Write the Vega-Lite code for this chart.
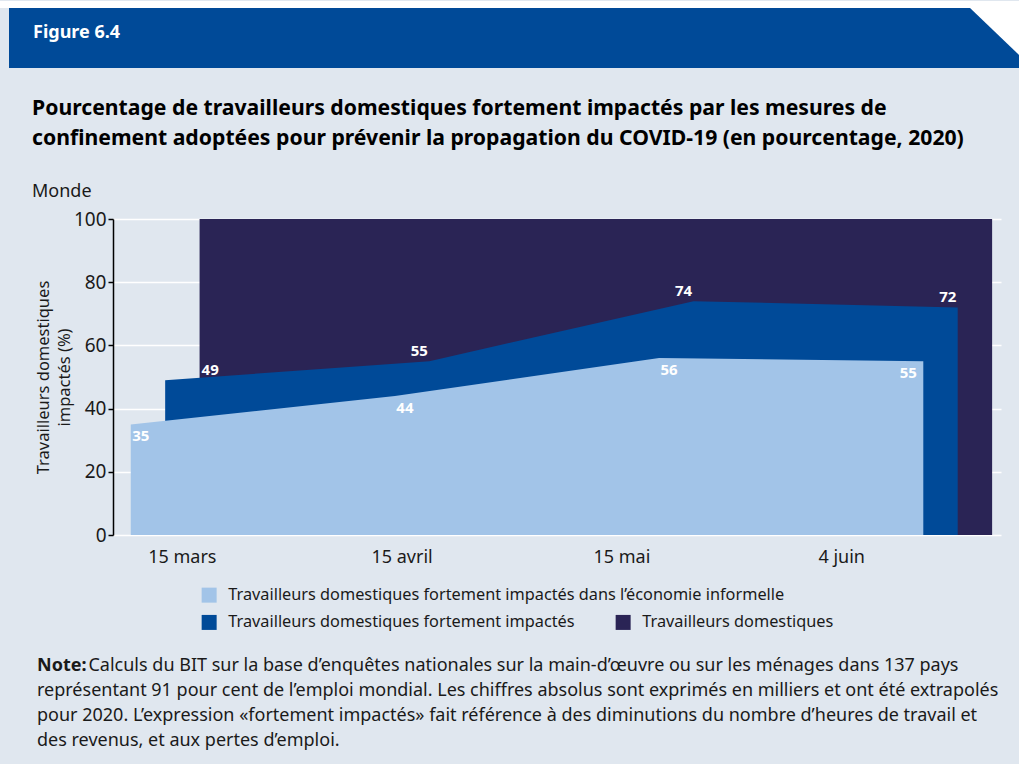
{
  "$schema": "https://vega.github.io/schema/vega-lite/v6.json",
  "background": "#e0e7ef",
  "padding": {"left": 0, "top": 0, "right": 0, "bottom": 18},
  "config": {
    "view": {"stroke": null},
    "font": "Noto Sans"
  },
  "datasets": {
    "banner": [{"label": "Figure 6.4"}],
    "shares": [
      {"series": "Travailleurs domestiques fortement impactés dans l’économie informelle", "pos": 0.08, "value": 35},
      {"series": "Travailleurs domestiques fortement impactés dans l’économie informelle", "pos": 1.27, "value": 44},
      {"series": "Travailleurs domestiques fortement impactés dans l’économie informelle", "pos": 2.46, "value": 56},
      {"series": "Travailleurs domestiques fortement impactés dans l’économie informelle", "pos": 3.65, "value": 55},
      {"series": "Travailleurs domestiques fortement impactés", "pos": 0.235, "value": 49},
      {"series": "Travailleurs domestiques fortement impactés", "pos": 1.425, "value": 55},
      {"series": "Travailleurs domestiques fortement impactés", "pos": 2.615, "value": 74},
      {"series": "Travailleurs domestiques fortement impactés", "pos": 3.805, "value": 72},
      {"series": "Travailleurs domestiques", "pos": 0.39, "value": 100},
      {"series": "Travailleurs domestiques", "pos": 1.58, "value": 100},
      {"series": "Travailleurs domestiques", "pos": 2.77, "value": 100},
      {"series": "Travailleurs domestiques", "pos": 3.96, "value": 100}
    ]
  },
  "title": {
    "text": "Note:",
    "subtitle": [
      "\u200b\u00a0\u00a0\u00a0\u00a0\u00a0\u00a0\u00a0\u00a0\u00a0\u00a0\u00a0Calculs du BIT sur la base d’enquêtes nationales sur la main-d’œuvre ou sur les ménages dans 137 pays",
      "représentant 91 pour cent de l’emploi mondial. Les chiffres absolus sont exprimés en milliers et ont été extrapolés",
      "pour 2020. L’expression «fortement impactés» fait référence à des diminutions du nombre d’heures de travail et",
      "des revenus, et aux pertes d’emploi."
    ],
    "orient": "bottom",
    "anchor": "start",
    "frame": "bounds",
    "dx": 37,
    "offset": 26,
    "fontSize": 18,
    "fontWeight": "bold",
    "color": "#1a1a1a",
    "subtitleFontSize": 18,
    "subtitleColor": "#1a1a1a",
    "subtitleLineHeight": 25,
    "subtitlePadding": -18
  },
  "bounds": "flush",
  "spacing": 151,
  "vconcat": [
    {
      "width": 888,
      "height": 60,
      "data": {"name": "banner"},
      "title": {
        "text": "Figure 6.4",
        "anchor": "start",
        "frame": "group",
        "dx": -80,
        "offset": -55,
        "fontSize": 18,
        "fontWeight": "bold",
        "color": "#ffffff",
        "baseline": "alphabetic"
      },
      "layer": [
        {
          "mark": {
            "type": "point",
            "shape": "M-1.01642,-0.06752L0.84307,-0.06752L0.84307,0.03102L0.75365,-0.05474L-1.01642,-0.05474Z",
            "size": 1201216,
            "filled": true,
            "opacity": 1,
            "strokeWidth": 0,
            "color": "#ffffff"
          }
        },
        {
          "mark": {
            "type": "point",
            "shape": "M-1,-0.05474L0.75365,-0.05474L0.84307,0.03102L0.84307,0.05474L-1,0.05474Z",
            "size": 1201216,
            "filled": true,
            "opacity": 1,
            "strokeWidth": 0,
            "color": "#004a98"
          }
        }
      ]
    },
    {
      "width": 888,
      "height": 316,
      "data": {"name": "shares"},
      "title": {
        "text": [
          "Pourcentage de travailleurs domestiques fortement impactés par les mesures de",
          "confinement adoptées pour prévenir la propagation du COVID-19 (en pourcentage, 2020)"
        ],
        "subtitle": "Monde",
        "anchor": "start",
        "frame": "group",
        "dx": -81,
        "offset": 9,
        "fontSize": 21.2,
        "fontWeight": "bold",
        "color": "#000000",
        "lineHeight": 30,
        "subtitleFontSize": 18,
        "subtitleColor": "#1a1a1a",
        "subtitlePadding": 34
      },
      "encoding": {
        "x": {
          "field": "pos",
          "type": "quantitative",
          "scale": {"domain": [0, 4], "nice": false, "zero": false},
          "axis": {
            "values": [0.31, 1.3, 2.29, 3.28],
            "labelExpr": "datum.value < 1 ? '15 mars' : datum.value < 2 ? '15 avril' : datum.value < 3 ? '15 mai' : '4 juin'",
            "title": null,
            "ticks": false,
            "domain": false,
            "grid": false,
            "labelFontSize": 18,
            "labelColor": "#1a1a1a",
            "labelPadding": 13
          }
        },
        "y": {
          "field": "value",
          "type": "quantitative",
          "stack": null,
          "scale": {"domain": [0, 100], "nice": false},
          "axis": {
            "values": [0, 20, 40, 60, 80, 100],
            "title": ["Travailleurs domestiques", "impactés (%)"],
            "titleFontSize": 16.5,
            "titleFontWeight": "normal",
            "titleColor": "#1a1a1a",
            "titleLineHeight": 21,
            "titlePadding": 1,
            "labelFontSize": 19,
            "labelColor": "#1a1a1a",
            "labelPadding": 2,
            "tickColor": "#000000",
            "tickSize": 5,
            "tickWidth": 1.5,
            "domainColor": "#000000",
            "domainWidth": 1.5,
            "gridColor": "#ffffff",
            "gridWidth": 1.5
          }
        }
      },
      "layer": [
        {
          "transform": [{"filter": "datum.series !== 'Travailleurs domestiques fortement impactés dans l’économie informelle'"}],
          "mark": {"type": "area", "opacity": 1},
          "encoding": {
            "color": {
              "field": "series",
              "type": "nominal",
              "sort": ["Travailleurs domestiques fortement impactés", "Travailleurs domestiques"],
              "scale": {
                "domain": ["Travailleurs domestiques fortement impactés", "Travailleurs domestiques"],
                "range": ["#004a98", "#2a2455"]
              },
              "legend": {
                "orient": "none",
                "direction": "horizontal",
                "legendX": 88,
                "legendY": 606,
                "title": null,
                "symbolType": "square",
                "symbolSize": 225,
                "symbolStrokeWidth": 0,
                "symbolOpacity": 1,
                "labelFontSize": 16.3,
                "labelColor": "#1a1a1a",
                "labelOffset": 11,
                "labelLimit": 900,
                "columnPadding": 40
              }
            },
            "order": {"field": "value", "type": "quantitative", "sort": "descending"}
          }
        },
        {
          "transform": [{"filter": "datum.series === 'Travailleurs domestiques fortement impactés'"}],
          "mark": {"type": "area", "opacity": 1, "color": "#004a98"}
        },
        {
          "transform": [{"filter": "datum.series === 'Travailleurs domestiques fortement impactés dans l’économie informelle'"}],
          "mark": {"type": "area", "opacity": 1},
          "encoding": {
            "fill": {
              "field": "series",
              "type": "nominal",
              "scale": {"range": ["#a2c4e8"]},
              "legend": {
                "orient": "none",
                "legendX": 88,
                "legendY": 579,
                "title": null,
                "symbolType": "square",
                "symbolSize": 225,
                "symbolStrokeWidth": 0,
                "symbolOpacity": 1,
                "labelFontSize": 16.3,
                "labelColor": "#1a1a1a",
                "labelOffset": 11,
                "labelLimit": 900
              }
            }
          }
        },
        {
          "transform": [{"filter": "datum.series === 'Travailleurs domestiques fortement impactés dans l’économie informelle' && datum.pos < 3"}],
          "mark": {"type": "text", "fontSize": 15, "fontWeight": "bold", "dx": 10, "dy": 12, "baseline": "middle", "color": "#ffffff"},
          "encoding": {"text": {"field": "value", "type": "quantitative"}}
        },
        {
          "transform": [{"filter": "datum.series === 'Travailleurs domestiques fortement impactés dans l’économie informelle' && datum.pos > 3"}],
          "mark": {"type": "text", "fontSize": 15, "fontWeight": "bold", "dx": -15, "dy": 12, "baseline": "middle", "color": "#ffffff"},
          "encoding": {"text": {"field": "value", "type": "quantitative"}}
        },
        {
          "transform": [{"filter": "datum.series === 'Travailleurs domestiques fortement impactés' && datum.pos < 1"}],
          "mark": {"type": "text", "fontSize": 15, "fontWeight": "bold", "dx": 45, "dy": -10.5, "baseline": "middle", "color": "#ffffff"},
          "encoding": {"text": {"field": "value", "type": "quantitative"}}
        },
        {
          "transform": [{"filter": "datum.series === 'Travailleurs domestiques fortement impactés' && datum.pos > 1"}],
          "mark": {"type": "text", "fontSize": 15, "fontWeight": "bold", "dx": -10, "dy": -10.5, "baseline": "middle", "color": "#ffffff"},
          "encoding": {"text": {"field": "value", "type": "quantitative"}}
        }
      ]
    }
  ]
}
